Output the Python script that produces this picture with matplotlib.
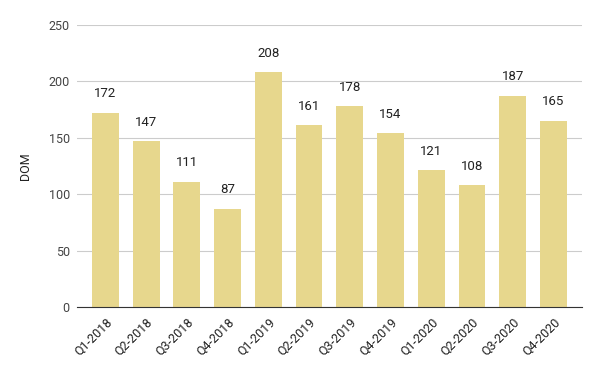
import matplotlib
matplotlib.use('Agg')
import matplotlib.pyplot as plt
from matplotlib.transforms import ScaledTranslation

quarters = ['Q1-2018', 'Q2-2018', 'Q3-2018', 'Q4-2018',
            'Q1-2019', 'Q2-2019', 'Q3-2019', 'Q4-2019',
            'Q1-2020', 'Q2-2020', 'Q3-2020', 'Q4-2020']
dom = [172, 147, 111, 87, 208, 161, 178, 154, 121, 108, 187, 165]

plt.rcParams['font.family'] = ['Roboto', 'DejaVu Sans']

fig = plt.figure(figsize=(6, 3.71), dpi=100)
ax = fig.add_axes([0.128, 0.1725, 0.842, 0.7605])

x = range(len(quarters))
bars = ax.bar(x, dom, width=0.66, color='#e7d78d', zorder=2)
for b, v in zip(bars, dom):
    ax.annotate(str(v), (b.get_x() + b.get_width() / 2, v),
                xytext=(0, 9), textcoords='offset points',
                ha='center', va='bottom', fontsize=9.5, color='#222222')

ax.set_xlim(-0.7, len(quarters) - 0.3)
ax.set_ylim(0, 250)
ax.set_yticks([0, 50, 100, 150, 200, 250])
ax.set_xticks(list(x))
ax.set_xticklabels(quarters, rotation=45, ha='right', rotation_mode='anchor',
                   fontsize=9, color='#222222')
shift = ScaledTranslation(7 / 72, 0, fig.dpi_scale_trans)
for lab in ax.get_xticklabels():
    lab.set_transform(lab.get_transform() + shift)
ax.tick_params(axis='y', labelsize=9, labelcolor='#444444', length=0, pad=5)
ax.tick_params(axis='x', length=0, pad=6)
ax.grid(axis='y', color='#cccccc', linewidth=0.8, zorder=0)
for s in ['top', 'right', 'left']:
    ax.spines[s].set_visible(False)
ax.spines['bottom'].set_color('#333333')
ax.spines['bottom'].set_zorder(3)
ax.set_ylabel('DOM', fontsize=9, color='#222222', labelpad=12)

fig.savefig('out.png', dpi=100)
